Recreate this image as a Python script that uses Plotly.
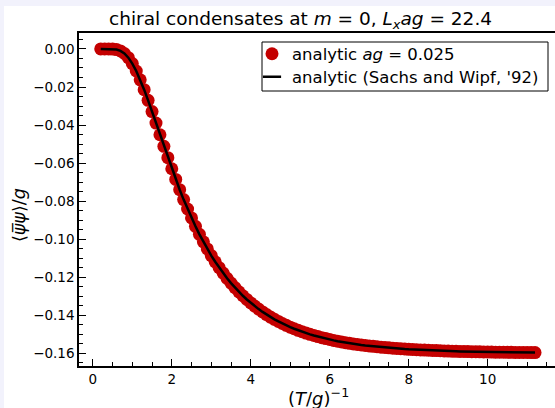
import plotly.graph_objects as go

# (T/g)^-1 values of the data points
inv_temp = [0.2, 0.3, 0.4, 0.5, 0.6, 0.7, 0.8, 0.9, 1.0, 1.1, 1.2, 1.3, 1.4, 1.5, 1.6, 1.7, 1.8, 1.9,
            2.0, 2.1, 2.2, 2.3, 2.4, 2.5, 2.6, 2.7, 2.8, 2.9, 3.0, 3.1, 3.2, 3.3, 3.4, 3.5, 3.6, 3.7,
            3.8, 3.9, 4.0, 4.1, 4.2, 4.3, 4.4, 4.5, 4.6, 4.7, 4.8, 4.9, 5.0, 5.1, 5.2, 5.3, 5.4, 5.5,
            5.6, 5.7, 5.8, 5.9, 6.0, 6.1, 6.2, 6.3, 6.4, 6.5, 6.6, 6.7, 6.8, 6.9, 7.0, 7.1, 7.2, 7.3,
            7.4, 7.5, 7.6, 7.7, 7.8, 7.9, 8.0, 8.1, 8.2, 8.3, 8.4, 8.5, 8.6, 8.7, 8.8, 8.9, 9.0, 9.1,
            9.2, 9.3, 9.4, 9.5, 9.6, 9.7, 9.8, 9.9, 10.0, 10.1, 10.2, 10.3, 10.4, 10.5, 10.6, 10.7,
            10.8, 10.9, 11.0, 11.1, 11.2]

# chiral condensate <psibar psi>/g, analytic ag = 0.025
cond_lattice = [0.0, 0.0, -0.00000, -0.00006, -0.00031, -0.00100, -0.00237, -0.00457, -0.00767,
                -0.01158, -0.01620, -0.02140, -0.02702, -0.03292, -0.03898, -0.04509, -0.05118,
                -0.05716, -0.06297, -0.06860, -0.07401, -0.07920, -0.08414, -0.08882, -0.09326,
                -0.09746, -0.10140, -0.10513, -0.10862, -0.11190, -0.11498, -0.11785, -0.12058,
                -0.12311, -0.12548, -0.12768, -0.12976, -0.13170, -0.13351, -0.13520, -0.13679,
                -0.13826, -0.13966, -0.14095, -0.14216, -0.14328, -0.14435, -0.14533, -0.14626,
                -0.14712, -0.14794, -0.14869, -0.14939, -0.15005, -0.15067, -0.15125, -0.15179,
                -0.15229, -0.15277, -0.15323, -0.15366, -0.15406, -0.15443, -0.15477, -0.15509,
                -0.15539, -0.15567, -0.15593, -0.15615, -0.15637, -0.15658, -0.15678, -0.15697,
                -0.15715, -0.15732, -0.15748, -0.15763, -0.15777, -0.15791, -0.15803, -0.15814,
                -0.15824, -0.15834, -0.15843, -0.15852, -0.15860, -0.15868, -0.15876, -0.15884,
                -0.15891, -0.15897, -0.15903, -0.15908, -0.15913, -0.15918, -0.15922, -0.15926,
                -0.15930, -0.15934, -0.15938, -0.15941, -0.15944, -0.15947, -0.15950, -0.15952,
                -0.15955, -0.15957, -0.15959, -0.15961, -0.15963, -0.15965]

# continuum curve (Sachs and Wipf, '92) evaluated on the same grid
curve_x = inv_temp
cond_sachs_wipf = cond_lattice

marker_name = "analytic <i>ag</i> = 0.025"
line_name = "analytic (Sachs and Wipf, '92)"

FONT = "DejaVu Sans"
L, R, T, B = 79, 0, 33, 42
W, H = 555, 408
PW = W - L - R
PH = H - T - B


def px(xp):
    return (xp - L) / PW


def py(yp):
    return (H - B - yp) / PH


fig = go.Figure()
fig.add_trace(go.Scatter(
    x=inv_temp, y=cond_lattice, mode="markers", name=marker_name, legend="legend",
    marker=dict(color="#c40000", size=13, line=dict(width=0)),
))
fig.add_trace(go.Scatter(
    x=curve_x, y=cond_sachs_wipf, mode="lines", name=line_name, showlegend=False,
    line=dict(color="black", width=2.5),
))
# legend-only entry for the curve (short line symbol like the reference)
fig.add_trace(go.Scatter(
    x=[None], y=[None], mode="markers", name=line_name, legend="legend2",
    marker=dict(symbol="line-ew", size=13, color="black", line=dict(color="black", width=2.5)),
))

axis_common = dict(
    showline=True, linecolor="black", linewidth=1.5, showgrid=False, zeroline=False,
    ticks="inside", ticklen=7, tickwidth=1.2, tickcolor="black",
    tickfont=dict(family=FONT, size=13.5, color="black"),
)

legend_common = dict(
    xanchor="left", yanchor="middle", bgcolor="rgba(0,0,0,0)", borderwidth=0,
    font=dict(family=FONT, size=16.5, color="black"),
)

fig.update_layout(
    width=W, height=H,
    margin=dict(l=L, r=R, t=T, b=B, pad=0),
    paper_bgcolor="#f2f2fc",
    plot_bgcolor="white",
    font=dict(family=FONT, color="black"),
    showlegend=True,
    legend=dict(x=px(252), y=py(54), **legend_common),
    legend2=dict(x=px(252), y=py(77), **legend_common),
    xaxis=dict(
        range=[-0.35, 11.706], tick0=0, dtick=2, mirror=True,
        minor=dict(dtick=0.5, ticks="inside", ticklen=4, tickwidth=1, tickcolor="black", showgrid=False),
        **axis_common,
    ),
    yaxis=dict(
        range=[-0.1667, 0.0084], tick0=0, dtick=0.02, tickformat=".2f",
        minor=dict(dtick=0.005, ticks="inside", ticklen=4, tickwidth=1, tickcolor="black", showgrid=False),
        **axis_common,
    ),
    shapes=[
        dict(type="rect", xref="paper", yref="paper", x0=px(4), x1=1.2, y0=-0.3, y1=py(6),
             fillcolor="white", line=dict(width=0), layer="below"),
        dict(type="rect", xref="paper", yref="paper", x0=px(262), x1=px(548), y0=py(91), y1=py(42),
             fillcolor="white", line=dict(color="black", width=1), layer="above"),
    ],
    annotations=[
        dict(text="chiral condensates at <i>m</i> = 0, <i>L<sub>x</sub>ag</i> = 22.4",
             x=px(300), y=py(20), xref="paper", yref="paper", xanchor="center", yanchor="middle",
             showarrow=False, font=dict(family=FONT, size=18.5, color="black")),
        dict(text="⟨<i>ψ̅ψ</i>⟩/<i>g</i>", textangle=-90,
             x=px(19), y=py(215), xref="paper", yref="paper", xanchor="center", yanchor="middle",
             showarrow=False, font=dict(family=FONT, size=17.5, color="black")),
        dict(text="(<i>T</i>/<i>g</i>)<sup>−1</sup>",
             x=px(318), y=py(397), xref="paper", yref="paper", xanchor="center", yanchor="middle",
             showarrow=False, font=dict(family=FONT, size=18, color="black")),
    ],
)

fig.write_html("out.html")
